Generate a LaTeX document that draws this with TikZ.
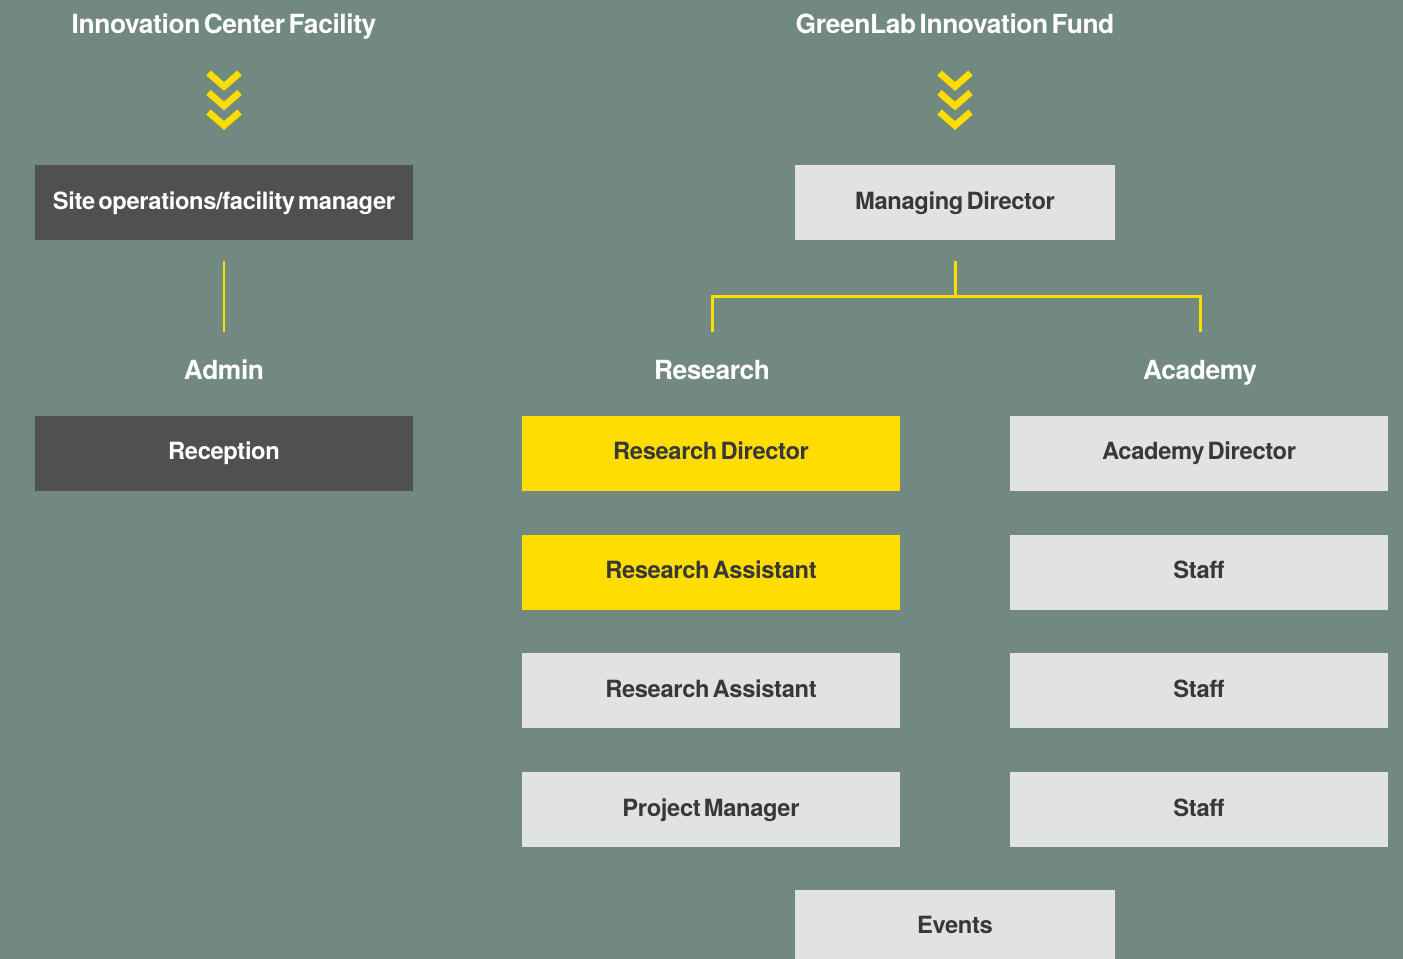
\documentclass[tikz,border=0pt]{standalone}
\usepackage{fontspec}
\setmainfont{TeX Gyre Heros}[WordSpace=0.5, LetterSpace=-1.5]
\usetikzlibrary{positioning}
\usetikzlibrary{calc}
\definecolor{bgsage}{HTML}{718981}
\definecolor{boxdark}{HTML}{4F5052}
\definecolor{boxlight}{HTML}{E1E3E2}
\definecolor{labyellow}{HTML}{FFDD00}
\definecolor{inkdark}{HTML}{383838}

\begin{document}
\begin{tikzpicture}[
  font=\fontsize{13.5}{16}\selectfont\bfseries,
  node distance=0.86cm,
  box/.style={minimum width=7.56cm, minimum height=1.5cm, inner sep=0pt, align=center,
    text height=0.34cm, text depth=0.08cm},
  darkbox/.style={box, fill=boxdark, text=white},
  lightbox/.style={box, fill=boxlight, text=inkdark},
  hotbox/.style={box, fill=labyellow, text=inkdark},
  head/.style={text=white, inner sep=0pt, font=\fontsize{15}{18}\selectfont\bfseries,
    text height=0.37cm, text depth=0.09cm},
  link/.style={draw=labyellow, line width=1.7pt},
  chevron/.style={draw=labyellow, line width=3.8pt, miter limit=10}
]

% canvas
\fill[bgsage] (0,0) rectangle (28.06,-19.18);
\useasboundingbox (0,0) rectangle (28.06,-19.18);

% Innovation center side
\node[head] (ictitle) at (4.48,-0.53) {Innovation Center Facility};
\node[darkbox] (site) at (4.48,-4.06) {Site operations/facility manager};
\node[head] (admin) at (4.48,-7.46) {Admin};
\node[darkbox] (reception) at (4.48,-9.07) {Reception};

% GreenLab side
\node[head] (gltitle) at (19.1,-0.53) {GreenLab Innovation Fund};
\node[lightbox, minimum width=6.4cm] (md) at (19.1,-4.06) {Managing Director};
\node[head] (research) at (14.24,-7.46) {Research};
\node[head] (academy) at (24.0,-7.46) {Academy};

% Research column
\node[hotbox] (rdir) at (14.22,-9.07) {Research Director};
\node[hotbox, below=of rdir] (ra1) {Research Assistant};
\node[lightbox, below=of ra1] (ra2) {Research Assistant};
\node[lightbox, below=of ra2] (pm) {Project Manager};

% Academy column
\node[lightbox] (adir) at (23.98,-9.07) {Academy Director};
\node[lightbox, below=of adir] (staff1) {Staff};
\node[lightbox, below=of staff1] (staff2) {Staff};
\node[lightbox, below=of staff2] (staff3) {Staff};

\node[lightbox, minimum width=6.4cm, anchor=north] (events)
  at ($(pm.south -| md.south)+(0,-0.84)$) {Events};

% chevrons under the titles
\foreach \t in {ictitle, gltitle}
  \foreach \k in {0,1,2}
    \draw[chevron] ($(\t)+(-0.31,-0.93-0.39*\k)$) -- ++(0.31,-0.27) -- ++(0.31,0.27);

% connectors
\draw[link, shorten <=0.4cm, shorten >=0.58cm] (site) -- (admin);
\coordinate (fork) at ($(md.south)+(0,-1.12)$);
\draw[link, shorten <=0.4cm] (md) -- (fork);
\draw[link, shorten >=0.58cm] (fork) -| (research);
\draw[link, shorten >=0.58cm] (fork) -| (academy);

\end{tikzpicture}
\end{document}
